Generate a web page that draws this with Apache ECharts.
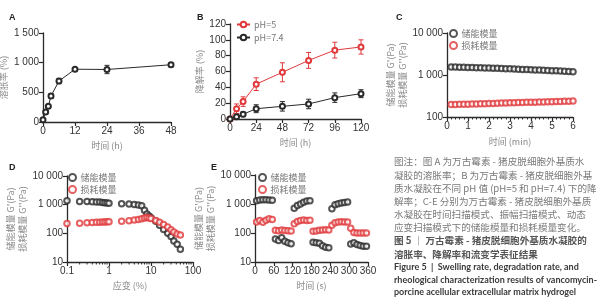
<!DOCTYPE html>
<html>
<head>
<meta charset="utf-8">
<script src="https://cdn.jsdelivr.net/npm/echarts@6/dist/echarts.min.js"></script>
<style>
  html, body { margin: 0; background: #fff; }
  #chart { width: 601px; height: 300px; }
</style>
</head>
<body>
<div id="chart"></div>
<script>
// A 溶胀率
const swellTime = [0, 1, 2, 3, 6, 12, 24, 48];
const swellRate = [40, 170, 265, 440, 690, 890, 885, 965];
const swellErr = [15, 25, 30, 40, 45, 25, 70, 35];

// B 降解率
const degTime = [0, 6, 12, 24, 48, 72, 96, 120];
const degPH5 = [0, 13, 22, 44, 59, 74, 87, 91];
const degPH5Err = [0, 6, 6, 8, 12, 10, 10, 9];
const degPH74 = [0, 3, 6, 13, 16, 19, 27, 32];
const degPH74Err = [0, 2, 3, 5, 6, 6, 6, 5];

// C 时间扫描
const sweepTime = [0.2, 0.4, 0.6, 0.8, 1.0, 1.2, 1.4, 1.6, 1.8, 2.0, 2.2, 2.4, 2.6, 2.8, 3.0,
  3.2, 3.4, 3.6, 3.8, 4.0, 4.2, 4.4, 4.6, 4.8, 5.0, 5.2, 5.4, 5.6, 5.8, 6.0];
const sweepG1 = [1550, 1540, 1530, 1520, 1510, 1500, 1490, 1480, 1470, 1460, 1450, 1440, 1425, 1410, 1400,
  1390, 1375, 1360, 1350, 1335, 1320, 1310, 1300, 1285, 1270, 1260, 1245, 1230, 1215, 1200];
const sweepG2 = [198, 199, 200, 201, 202, 204, 205, 207, 208, 210, 211, 213, 214, 216, 217,
  219, 220, 222, 223, 225, 226, 228, 229, 231, 232, 234, 235, 237, 238, 240];

// D 振幅扫描
const strain = [0.1, 0.2, 0.3, 0.4, 0.5, 0.6, 0.7, 0.8, 0.9, 1, 2, 3, 4, 5, 6, 7, 8, 9, 10,
  13, 16, 20, 25, 30, 35, 42, 50];
const strainG1 = [1370, 1300, 1290, 1270, 1250, 1230, 1200, 1170, 1150, 1130, 1080, 1050, 1020, 980, 920, 640, 470, 400, 350,
  266, 190, 137, 100, 77, 54, 42, 28];
const strainG2 = [221, 227, 232, 238, 242, 245, 248, 250, 252, 255, 262, 275, 290, 305, 320, 340, 355, 345, 330,
  280, 245, 205, 165, 134, 111, 95, 88];
const strainMinor = [0.2, 0.3, 0.4, 0.5, 0.6, 0.7, 0.8, 0.9, 2, 3, 4, 5, 6, 7, 8, 9, 20, 30, 40, 50, 60, 70, 80, 90];

// E 动态应变扫描
const recTime = [5, 15, 25, 35, 45, 55, 65, 75, 85, 95, 105, 115, 125, 135, 145, 155, 165, 175,
  185, 195, 205, 215, 225, 235, 245, 255, 265, 275, 285, 295, 305, 315, 325, 335, 345, 355];
const recG1 = [1300, 1380, 1400, 1400, 1380, 1350, 62, 55, 68, 52, 46, 43, 720, 880, 1000, 1150, 1280, 1300,
  48, 46, 44, 36, 32, 31, 680, 950, 1020, 1080, 1120, 1180, 42, 46, 40, 37, 35, 35];
const recG2 = [240, 270, 235, 275, 310, 290, 125, 120, 128, 122, 120, 118, 210, 250, 270, 278, 272, 275,
  115, 118, 125, 128, 130, 128, 185, 225, 240, 242, 240, 240, 145, 105, 100, 100, 100, 100];

// caption
const noteLines = [
  '图注：图 A 为万古霉素 - 猪皮脱细胞外基质水',
  '凝胶的溶胀率；B 为万古霉素 - 猪皮脱细胞外基',
  '质水凝胶在不同 pH 值 (pH=5 和 pH=7.4) 下的降',
  '解率；C-E 分别为万古霉素 - 猪皮脱细胞外基质',
  '水凝胶在时间扫描模式、振幅扫描模式、动态',
  '应变扫描模式下的储能模量和损耗模量变化。'
];
const titleLines = ['图 5 │ 万古霉素 - 猪皮脱细胞外基质水凝胶的', '溶胀率、降解率和流变学表征结果'];
const engLines = [
  'Figure 5  |  Swelling rate, degradation rate, and',
  'rheological characterization results of vancomycin-',
  'porcine acellular extracellular matrix hydrogel'
];

const CJK = '"Noto Sans CJK SC", sans-serif';
const SANS = '"Liberation Sans", Arial, sans-serif';
const RED = '#e0393c';
const BLACK = '#2a2a2a';
const NAME_GREY = '#8a8a8a';

const zip = (xs, ys) => xs.map((x, i) => [x, ys[i]]);
const thin = v => String(v).replace(/\B(?=(\d{3})+(?!\d))/g, ' ');

const axisBase = {
  axisLine: { show: true, onZero: false, lineStyle: { color: BLACK, width: 1.3 } },
  axisTick: { show: true, length: 4, lineStyle: { color: BLACK, width: 1.2 } },
  axisLabel: { color: '#333', fontSize: 10, fontFamily: SANS, margin: 4 },
  splitLine: { show: false },
  nameLocation: 'middle',
  nameTextStyle: { color: NAME_GREY, fontSize: 9, fontFamily: CJK, lineHeight: 12 }
};
const ax = (extra) => Object.assign({}, axisBase, extra,
  { axisLabel: Object.assign({}, axisBase.axisLabel, extra.axisLabel || {}) });

function errorBars(idx, xs, ys, errs, color) {
  return {
    type: 'custom', xAxisIndex: idx, yAxisIndex: idx, silent: true, z: 1,
    encode: { x: 0, y: [1, 2] },
    data: xs.map((x, i) => [x, ys[i] - errs[i], ys[i] + errs[i]]),
    renderItem: (params, api) => {
      const lo = api.coord([api.value(0), api.value(1)]);
      const hi = api.coord([api.value(0), api.value(2)]);
      const w = 2.5;
      const style = { stroke: color, lineWidth: 1 };
      return {
        type: 'group', children: [
          { type: 'line', shape: { x1: lo[0], y1: lo[1], x2: hi[0], y2: hi[1] }, style },
          { type: 'line', shape: { x1: lo[0] - w, y1: lo[1], x2: lo[0] + w, y2: lo[1] }, style },
          { type: 'line', shape: { x1: hi[0] - w, y1: hi[1], x2: hi[0] + w, y2: hi[1] }, style }
        ]
      };
    }
  };
}

const lineSeries = (name, idx, data, color) => ({
  name, type: 'line', xAxisIndex: idx, yAxisIndex: idx, data, z: 3,
  symbol: 'emptyCircle', symbolSize: 5, showSymbol: true,
  lineStyle: { color, width: 1 }, itemStyle: { color, borderColor: color, borderWidth: 1.1 }
});
const dots = (name, idx, data, color) => ({
  name, type: 'scatter', xAxisIndex: idx, yAxisIndex: idx, data, z: 3,
  symbol: 'emptyCircle', symbolSize: 5.5,
  itemStyle: { color, borderColor: color, borderWidth: 1.1 }
});

const modName = '储能模量 G\'(Pa)\n损耗模量 G\'\'(Pa)';

const graphics = [
  ['A', 9, 13], ['B', 197, 13], ['C', 396, 13], ['D', 9, 163], ['E', 211, 163]
].map(([t, x, y]) => ({
  type: 'text', left: x, top: y,
  style: { text: t, fontSize: 9, fontWeight: 'bold', fontFamily: SANS, fill: '#222' }
}));
noteLines.forEach((t, i) => graphics.push({
  type: 'text', left: 394, top: 157 + 13.2 * i,
  style: { text: t, fontSize: 9.6, fontFamily: CJK, fill: '#7a7a7a' }
}));
titleLines.forEach((t, i) => graphics.push({
  type: 'text', left: 394, top: 236 + 13.2 * i,
  style: { text: t, fontSize: 9.6, fontFamily: CJK, fontWeight: 'bold', fill: '#555' }
}));
engLines.forEach((t, i) => graphics.push({
  type: 'text', left: 394, top: 263 + 12.3 * i,
  style: { text: t, fontSize: 9, fontFamily: 'Lato, sans-serif', fontWeight: 'bold', fill: '#3a3a3a' }
}));

const legendBase = {
  orient: 'vertical', padding: 0, itemGap: 3, itemWidth: 8, itemHeight: 7,
  textStyle: { color: '#777', fontSize: 9, fontFamily: CJK, padding: [0, 0, 0, -1] },
  selectedMode: false
};

const option = {
  animation: false,
  backgroundColor: '#fff',
  grid: [
    { left: 43, top: 33, width: 128, height: 89, outerBoundsMode: 'none' },
    { left: 230, top: 24, width: 131, height: 95, outerBoundsMode: 'none' },
    { left: 447, top: 33, width: 126, height: 84, outerBoundsMode: 'none' },
    { left: 67, top: 176, width: 126, height: 86, outerBoundsMode: 'none' },
    { left: 255, top: 175, width: 113, height: 87, outerBoundsMode: 'none' }
  ],
  xAxis: [
    ax({ gridIndex: 0, type: 'value', min: 0, max: 48, interval: 12, name: '时间 (h)', nameGap: 18 }),
    ax({ gridIndex: 1, type: 'value', min: 0, max: 120, interval: 24, name: '时间 (h)', nameGap: 18 }),
    ax({ gridIndex: 2, type: 'value', min: 0, max: 6, interval: 1, name: '时间 (min)', nameGap: 19,
      minorTick: { show: true, splitNumber: 5, length: 2.5, lineStyle: { color: BLACK, width: 1 } } }),
    ax({ gridIndex: 3, type: 'log', logBase: 10, min: 0.1, max: 100, name: '应变 (%)', nameGap: 18 }),
    ax({ gridIndex: 4, type: 'value', min: 0, max: 360, interval: 60, name: '时间 (s)', nameGap: 18 })
  ],
  yAxis: [
    ax({ gridIndex: 0, type: 'value', min: 0, max: 1500, interval: 500, name: '溶胀率 (%)', nameGap: 27,
      axisLabel: { formatter: thin } }),
    ax({ gridIndex: 1, type: 'value', min: 0, max: 120, interval: 20, name: '降解率 (%)', nameGap: 22 }),
    ax({ gridIndex: 2, type: 'log', logBase: 10, min: 100, max: 10000, name: modName, nameGap: 32,
      axisLabel: { formatter: thin } }),
    ax({ gridIndex: 3, type: 'log', logBase: 10, min: 10, max: 10000, name: modName, nameGap: 32,
      axisLabel: { formatter: thin } }),
    ax({ gridIndex: 4, type: 'log', logBase: 10, min: 10, max: 10000, name: modName, nameGap: 32,
      axisLabel: { formatter: thin } })
  ],
  legend: [
    Object.assign({}, legendBase, { left: 236, top: 20, itemWidth: 13, itemHeight: 7, itemGap: 4,
      data: ['pH=5', 'pH=7.4'] }),
    Object.assign({}, legendBase, { left: 449, top: 29, data: ['储能模量', '损耗模量'] }),
    Object.assign({}, legendBase, { left: 68, top: 173, data: ['储能模量', '损耗模量'] }),
    Object.assign({}, legendBase, { left: 258, top: 173, data: ['储能模量', '损耗模量'] })
  ],
  graphic: graphics,
  series: [
    errorBars(0, swellTime, swellRate, swellErr, BLACK),
    lineSeries('溶胀率', 0, zip(swellTime, swellRate), BLACK),

    errorBars(1, degTime, degPH5, degPH5Err, RED),
    errorBars(1, degTime, degPH74, degPH74Err, BLACK),
    lineSeries('pH=5', 1, zip(degTime, degPH5), RED),
    lineSeries('pH=7.4', 1, zip(degTime, degPH74), BLACK),

    dots('储能模量', 2, zip(sweepTime, sweepG1), BLACK),
    dots('损耗模量', 2, zip(sweepTime, sweepG2), RED),

    dots('储能模量', 3, zip(strain, strainG1), BLACK),
    dots('损耗模量', 3, zip(strain, strainG2), RED),
    {
      type: 'custom', xAxisIndex: 3, yAxisIndex: 3, silent: true,
      data: strainMinor.map(v => [v, 10]),
      renderItem: (params, api) => {
        const p = api.coord([api.value(0), 10]);
        return { type: 'line', shape: { x1: p[0], y1: p[1], x2: p[0], y2: p[1] + 2.5 },
          style: { stroke: BLACK, lineWidth: 1 } };
      }
    },

    dots('储能模量', 4, zip(recTime, recG1), BLACK),
    dots('损耗模量', 4, zip(recTime, recG2), RED)
  ]
};

const chart = echarts.init(document.getElementById('chart'));
chart.setOption(option);
window.addEventListener('resize', () => chart.resize());
</script>
</body>
</html>
